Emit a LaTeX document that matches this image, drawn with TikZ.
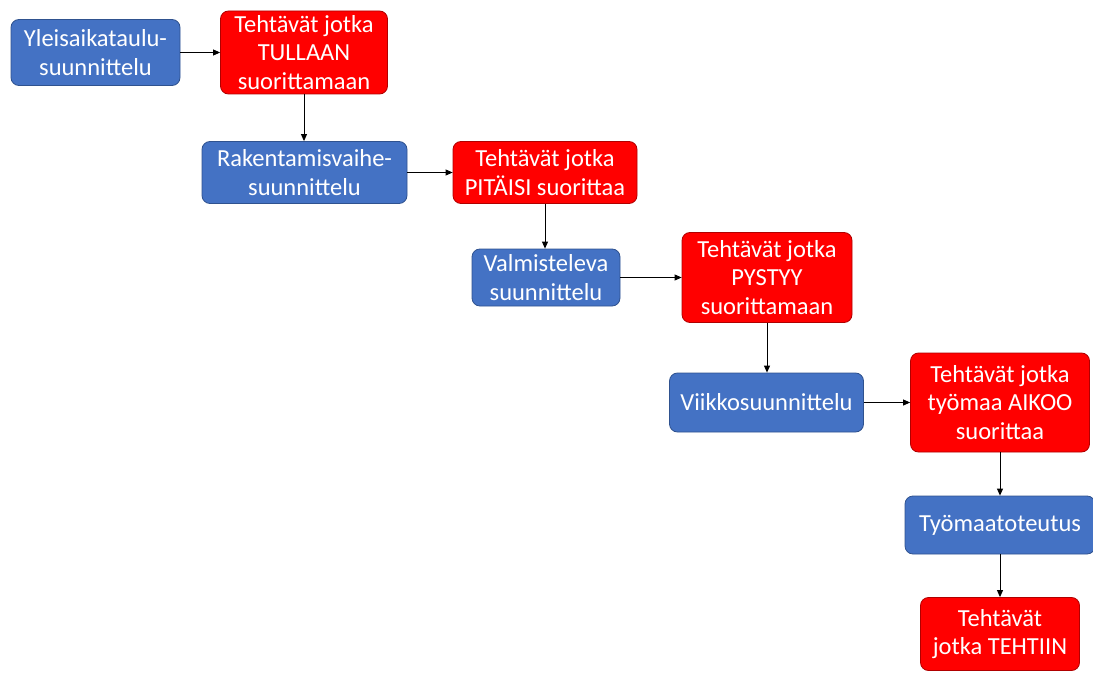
\documentclass[tikz,border=0pt]{standalone}
\usepackage{fontspec}
\setmainfont{Carlito}
\usepackage{tikz}
\usetikzlibrary{arrows.meta}

\definecolor{planblue}{HTML}{4472C4}
\definecolor{planedge}{HTML}{2F528F}
\definecolor{taskred}{HTML}{FF0000}
\definecolor{taskedge}{HTML}{B00000}

\begin{document}
\begin{tikzpicture}[x=1pt, y=-1pt,
  every node/.style={rectangle, rounded corners=8pt, align=center, text=white, inner sep=0pt,
    font=\fontsize{24.5}{28.5}\selectfont},
  plan/.style={fill=planblue, draw=planedge, line width=.8pt},
  task/.style={fill=taskred, draw=taskedge, line width=.8pt},
  flow/.style={-{Triangle[length=7pt, width=6pt]}, line width=.9pt}]
  \useasboundingbox (0,0) rectangle (1093,674);

  \node[plan, minimum width=169pt, minimum height=66pt] (p1) at (95.5,52.5) {Yleisaikataulu-\\suunnittelu};
  \node[task, minimum width=167pt, minimum height=83pt] (t1) at (304,52.5) {Tehtävät jotka\\TULLAAN\\suorittamaan};
  \node[plan, minimum width=205pt, minimum height=62pt] (p2) at (304.5,172.5) {Rakentamisvaihe-\\suunnittelu};
  \node[task, minimum width=184pt, minimum height=62pt] (t2) at (545,172.5) {Tehtävät jotka\\PITÄISI suorittaa};
  \node[plan, minimum width=148pt, minimum height=57pt] (p3) at (546,277.5) {Valmisteleva\\suunnittelu};
  \node[task, minimum width=170pt, minimum height=90pt] (t3) at (767,277.5) {Tehtävät jotka\\PYSTYY\\suorittamaan};
  \node[plan, minimum width=194pt, minimum height=59pt] (p4) at (766.5,402.5) {Viikkosuunnittelu};
  \node[task, minimum width=179pt, minimum height=99pt] (t4) at (1000,402.5) {Tehtävät jotka\\työmaa AIKOO\\suorittaa};
  \node[plan, minimum width=190pt, minimum height=58pt] (p5) at (1000,525) {Työmaatoteutus};
  \node[task, minimum width=159pt, minimum height=73pt] (t5) at (1000,634) {Tehtävät\\jotka TEHTIIN};

  \draw[flow] (p1) -- (t1); \draw[flow] (t1) -- (t1 |- p2.north);
  \draw[flow] (p2) -- (t2); \draw[flow] (t2) -- (t2 |- p3.north);
  \draw[flow] (p3) -- (t3); \draw[flow] (t3) -- (t3 |- p4.north);
  \draw[flow] (p4) -- (t4); \draw[flow] (t4) -- (p5);
  \draw[flow] (p5) -- (t5);
\end{tikzpicture}
\end{document}
